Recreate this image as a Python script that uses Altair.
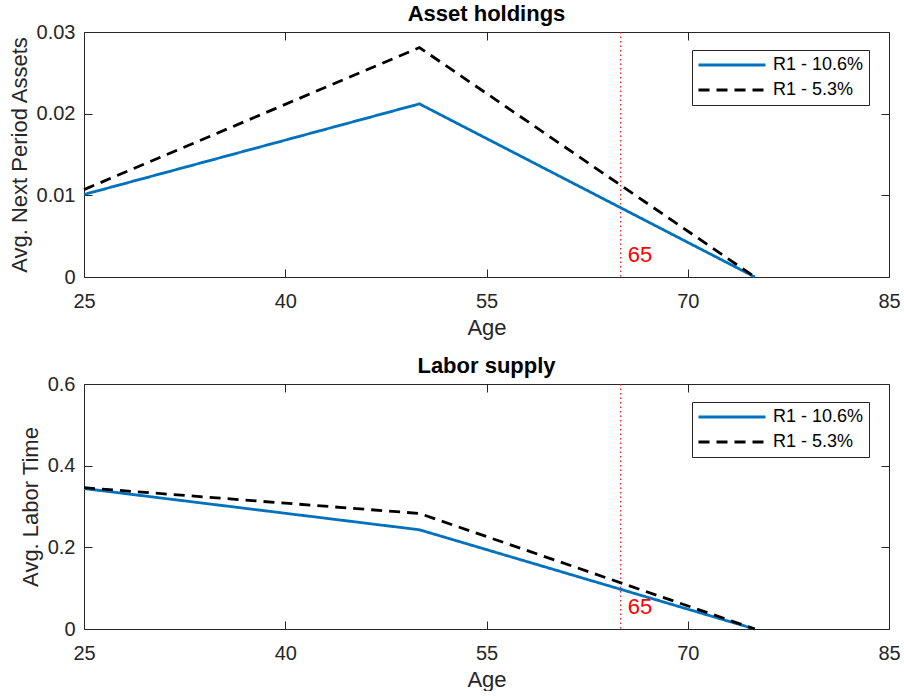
import altair as alt
import pandas as pd

ages = [25, 50, 75]
assets_r106 = [0.0101, 0.0212, 0.0]
assets_r53 = [0.0107, 0.0281, 0.0]
labor_r106 = [0.344, 0.243, 0.0]
labor_r53 = [0.346, 0.283, 0.0]
series = ["R1 - 10.6%", "R1 - 5.3%"]
colors = ["#0072BD", "#000000"]
dashes = [[1, 0], [11, 7]]
x_ticks = [25, 40, 55, 70, 85]
assets_ticks = [0, 0.01, 0.02, 0.03]
labor_ticks = [0, 0.2, 0.4, 0.6]
retire_age = 65
retire_label = "65"

FONT = "Liberation Sans"
AX = "#262626"
W, H = 805, 245


def long_df(a, b):
    rows = []
    for s, vals in zip(series, [a, b]):
        for age, v in zip(ages, vals):
            rows.append({"Age": age, "value": v, "series": s})
    return pd.DataFrame(rows)


def panel(df, title, ytitle, ydomain, yticks, label_y):
    xs = alt.Scale(domain=[25, 85], nice=False, zero=False)
    ys = alt.Scale(domain=ydomain, nice=False, zero=False)
    lines = alt.Chart(df).mark_line(strokeWidth=2.8).encode(
        x=alt.X("Age:Q", scale=xs, axis=alt.Axis(
            values=x_ticks, title="Age", orient="bottom", domain=False, labelFlush=False,
            tickSize=8, offset=-8, labelPadding=14, titlePadding=6)),
        y=alt.Y("value:Q", scale=ys, axis=alt.Axis(
            values=yticks, title=ytitle, orient="left", format="~g", domain=False, labelFlush=False,
            tickSize=8, offset=-8, labelPadding=9, titlePadding=5)),
        color=alt.Color("series:N", scale=alt.Scale(domain=series, range=colors),
                        legend=alt.Legend(title=None)),
        strokeDash=alt.StrokeDash("series:N", scale=alt.Scale(domain=series, range=dashes),
                                  legend=alt.Legend(title=None)),
    )
    rule_df = pd.DataFrame({"Age": [retire_age]})
    rule = alt.Chart(rule_df).mark_rule(color="#ff0000", strokeWidth=1.1, strokeDash=[1.5, 3]).encode(
        x=alt.X("Age:Q", axis=alt.Axis(values=x_ticks, orient="top", labels=False, title=None,
                                       domain=False, tickSize=8, offset=-8)),
    )
    text_df = pd.DataFrame({"Age": [retire_age], "value": [label_y], "t": [retire_label]})
    text = alt.Chart(text_df).mark_text(align="left", baseline="middle", dx=7, fontSize=22,
                                        font=FONT, color="#ff0000").encode(
        x=alt.X("Age:Q", axis=None),
        y=alt.Y("value:Q", axis=alt.Axis(values=yticks, orient="right", labels=False, title=None,
                                         domain=False, tickSize=8, offset=-8)),
        text="t:N",
    )
    return alt.layer(rule, lines, text).resolve_axis(x="independent", y="independent").properties(
        width=W, height=H,
        title=alt.TitleParams(title, font=FONT, fontSize=22, fontWeight="bold", color="#000000",
                              anchor="middle", offset=-4),
    )


top = panel(long_df(assets_r106, assets_r53), "Asset holdings", "Avg. Next Period Assets",
            [0, 0.03], assets_ticks, 0.0027)
bottom = panel(long_df(labor_r106, labor_r53), "Labor supply", "Avg. Labor Time",
               [0, 0.6], labor_ticks, 0.055)

chart = alt.vconcat(top, bottom, spacing=15).resolve_scale(
    color="independent", strokeDash="independent"
).properties(
    padding={"left": 7, "top": 2, "right": 0, "bottom": 0},
    background="white",
).configure_view(
    stroke=AX, strokeWidth=1
).configure_axis(
    labelFont=FONT, labelFontSize=20, labelColor=AX,
    titleFont=FONT, titleFontSize=22, titleColor=AX, titleFontWeight="normal",
    tickColor=AX, tickWidth=1, grid=False,
).configure_legend(
    orient="none", legendX=608, legendY=18,
    strokeColor=AX, fillColor="white", padding=5,
    symbolType="stroke", symbolSize=4489, symbolStrokeWidth=2.8,
    clipHeight=20, rowPadding=5, labelOffset=6,
    labelFont=FONT, labelFontSize=18, labelColor="#000000",
)

chart.save("out.html", embed_options={"renderer": "svg", "actions": False})
